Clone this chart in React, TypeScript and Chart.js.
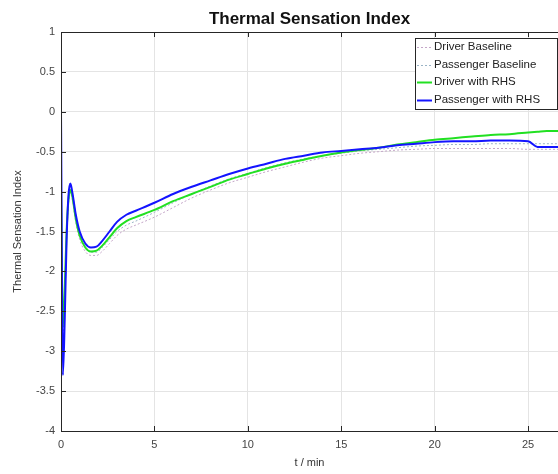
import React, { useEffect, useRef } from 'react';
import { Chart, registerables } from 'chart.js';

Chart.register(...registerables);

const TITLE = 'Thermal Sensation Index';
const X_TITLE = 't / min';
const Y_TITLE = 'Thermal Sensation Index';

const TIME = [0, 0.1, 0.2, 0.3, 0.4, 0.5, 0.6, 0.8, 1.0, 1.3, 1.6, 1.9, 2.2, 2.6, 3.0, 3.5, 4.0, 5, 6, 7, 8, 9, 10, 11, 12, 13, 14, 15, 16, 17, 18, 19, 20, 21, 22, 23, 24, 25, 25.5, 26, 26.6];

const DRIVER_BASELINE = [-1.2, -2.8, -2.3, -1.6, -1.15, -1.02, -1.1, -1.4, -1.6, -1.75, -1.8, -1.8, -1.75, -1.65, -1.55, -1.47, -1.42, -1.32, -1.2, -1.08, -0.98, -0.89, -0.82, -0.75, -0.69, -0.63, -0.58, -0.55, -0.52, -0.5, -0.48, -0.47, -0.46, -0.46, -0.46, -0.46, -0.46, -0.47, -0.47, -0.47, -0.47];

const PASSENGER_BASELINE = [-0.8, -3.0, -2.4, -1.55, -1.1, -0.96, -1.05, -1.35, -1.55, -1.7, -1.76, -1.76, -1.7, -1.6, -1.5, -1.42, -1.37, -1.26, -1.14, -1.03, -0.93, -0.84, -0.77, -0.7, -0.64, -0.59, -0.55, -0.52, -0.49, -0.47, -0.45, -0.43, -0.42, -0.41, -0.41, -0.4, -0.4, -0.4, -0.4, -0.4, -0.4];

const DRIVER_RHS = [-1.0, -2.7, -2.2, -1.5, -1.1, -0.98, -1.05, -1.35, -1.55, -1.7, -1.75, -1.74, -1.68, -1.57, -1.46, -1.37, -1.32, -1.23, -1.12, -1.03, -0.94, -0.85, -0.78, -0.71, -0.65, -0.6, -0.55, -0.51, -0.48, -0.45, -0.41, -0.38, -0.35, -0.33, -0.31, -0.29, -0.28, -0.26, -0.25, -0.24, -0.24];

const PASSENGER_RHS = [0.0, -3.3, -2.6, -1.6, -1.05, -0.9, -1.0, -1.3, -1.5, -1.65, -1.7, -1.69, -1.62, -1.5, -1.38, -1.29, -1.24, -1.14, -1.03, -0.94, -0.86, -0.78, -0.71, -0.65, -0.59, -0.55, -0.51, -0.49, -0.47, -0.45, -0.42, -0.4, -0.38, -0.37, -0.37, -0.36, -0.36, -0.37, -0.44, -0.44, -0.44];

const SERIES_NAMES = ['Driver Baseline', 'Passenger Baseline', 'Driver with RHS', 'Passenger with RHS'];
const SERIES_VALUES = [DRIVER_BASELINE, PASSENGER_BASELINE, DRIVER_RHS, PASSENGER_RHS];
const SERIES_COLORS = ['#c4a6c8', '#9ab4c6', '#22e022', '#1414ff'];
const SERIES_WIDTHS = [1, 1, 2, 2];
const SERIES_DASH: number[][] = [[2, 2], [2, 2], [], []];

const X_MIN = 0;
const X_MAX = 26.6;
const X_TICKS = [0, 5, 10, 15, 20, 25];
const Y_MIN = -4;
const Y_MAX = 1;
const Y_TICKS = [1, 0.5, 0, -0.5, -1, -1.5, -2, -2.5, -3, -3.5, -4];

const FONT = '"Liberation Sans", Arial, Helvetica, sans-serif';

const framePlugin = {
  id: 'matlabFrame',
  afterDatasetsDraw(chart: any) {
    const ctx = chart.ctx;
    const { left, right, top, bottom } = chart.chartArea;
    const xs = chart.scales.x;
    const ys = chart.scales.y;
    ctx.save();
    ctx.strokeStyle = '#262626';
    ctx.lineWidth = 1;
    ctx.beginPath();
    ctx.moveTo(left + 0.5, top + 0.5);
    ctx.lineTo(left + 0.5, bottom + 0.5);
    ctx.lineTo(right, bottom + 0.5);
    ctx.moveTo(left + 0.5, top + 0.5);
    ctx.lineTo(right, top + 0.5);
    ctx.stroke();
    ctx.beginPath();
    X_TICKS.forEach((v) => {
      const px = Math.round(xs.getPixelForValue(v)) + 0.5;
      ctx.moveTo(px, bottom);
      ctx.lineTo(px, bottom - 5);
      ctx.moveTo(px, top);
      ctx.lineTo(px, top + 5);
    });
    Y_TICKS.forEach((v) => {
      const py = Math.round(ys.getPixelForValue(v)) + 0.5;
      ctx.moveTo(left, py);
      ctx.lineTo(left + 5, py);
    });
    ctx.stroke();
    ctx.restore();
  },
  afterDraw(chart: any) {
    const ctx = chart.ctx;
    const { left, right, top, bottom } = chart.chartArea;
    ctx.save();
    // title
    ctx.fillStyle = '#111';
    ctx.font = `bold 17px ${FONT}`;
    ctx.textAlign = 'center';
    ctx.textBaseline = 'alphabetic';
    ctx.fillText(TITLE, (left + right) / 2, 24);
    // x title
    ctx.font = `11px ${FONT}`;
    ctx.fillStyle = '#333';
    ctx.textBaseline = 'middle';
    ctx.fillText(X_TITLE, (left + right) / 2, 463);
    // y title
    ctx.save();
    ctx.translate(18, (top + bottom) / 2);
    ctx.rotate(-Math.PI / 2);
    ctx.fillText(Y_TITLE, 0, 0);
    ctx.restore();
    // legend
    const lx = 415;
    const ly = 38;
    const lw = 142;
    const lh = 71;
    ctx.fillStyle = '#ffffff';
    ctx.fillRect(lx, ly, lw, lh);
    ctx.strokeStyle = '#262626';
    ctx.lineWidth = 1;
    ctx.strokeRect(lx + 0.5, ly + 0.5, lw, lh);
    ctx.font = `11.5px ${FONT}`;
    ctx.textAlign = 'left';
    ctx.textBaseline = 'middle';
    chart.data.datasets.forEach((ds: any, i: number) => {
      const cy = ly + 9 + i * 17.5;
      ctx.save();
      ctx.strokeStyle = ds.borderColor;
      ctx.lineWidth = ds.borderWidth;
      ctx.setLineDash(ds.borderDash || []);
      ctx.beginPath();
      ctx.moveTo(lx + 2, Math.round(cy) + 0.5);
      ctx.lineTo(lx + 17, Math.round(cy) + 0.5);
      ctx.stroke();
      ctx.restore();
      ctx.fillStyle = '#222';
      ctx.fillText(ds.label, lx + 19, cy);
    });
    ctx.restore();
  },
};

export default function App() {
  const ref = useRef<HTMLCanvasElement | null>(null);

  useEffect(() => {
    if (!ref.current) return;
    const datasets = SERIES_NAMES.map((name, i) => ({
      label: name,
      data: TIME.map((t, k) => ({ x: t, y: SERIES_VALUES[i][k] })),
      borderColor: SERIES_COLORS[i],
      backgroundColor: SERIES_COLORS[i],
      borderWidth: SERIES_WIDTHS[i],
      borderDash: SERIES_DASH[i],
      pointRadius: 0,
      cubicInterpolationMode: 'monotone' as const,
      fill: false,
      order: SERIES_NAMES.length - i,
    }));
    const chart = new Chart(ref.current, {
      type: 'line',
      data: { datasets },
      options: {
        animation: false,
        responsive: false,
        devicePixelRatio: 1,
        layout: { padding: { top: 32, right: 0, left: 0, bottom: 0 } },
        plugins: {
          legend: { display: false },
          title: { display: false },
          tooltip: { enabled: false },
        },
        scales: {
          x: {
            type: 'linear',
            min: X_MIN,
            max: X_MAX,
            afterFit: (s: any) => {
              s.height = 43;
            },
            afterBuildTicks: (s: any) => {
              s.ticks = X_TICKS.map((v) => ({ value: v }));
            },
            ticks: {
              color: '#444',
              font: { family: FONT, size: 11 },
              padding: 7,
              maxRotation: 0,
              autoSkip: false,
              callback: (v: any) => String(v),
            },
            grid: { color: '#e4e4e4', drawTicks: false },
            border: { display: false },
          },
          y: {
            type: 'linear',
            min: Y_MIN,
            max: Y_MAX,
            afterFit: (s: any) => {
              s.width = 61;
            },
            afterBuildTicks: (s: any) => {
              s.ticks = Y_TICKS.map((v) => ({ value: v }));
            },
            ticks: {
              color: '#444',
              font: { family: FONT, size: 11 },
              padding: 6,
              autoSkip: false,
              callback: (v: any) => String(Math.round(Number(v) * 10) / 10),
            },
            grid: { color: '#e4e4e4', drawTicks: false },
            border: { display: false },
          },
        },
      },
      plugins: [framePlugin],
    });
    return () => chart.destroy();
  }, []);

  return (
    <div style={{ position: 'fixed', left: 0, top: 0, width: 558, height: 474, background: '#fff', overflow: 'hidden' }}>
      <canvas ref={ref} width={558} height={474} style={{ display: 'block', width: 558, height: 474 }} />
    </div>
  );
}
